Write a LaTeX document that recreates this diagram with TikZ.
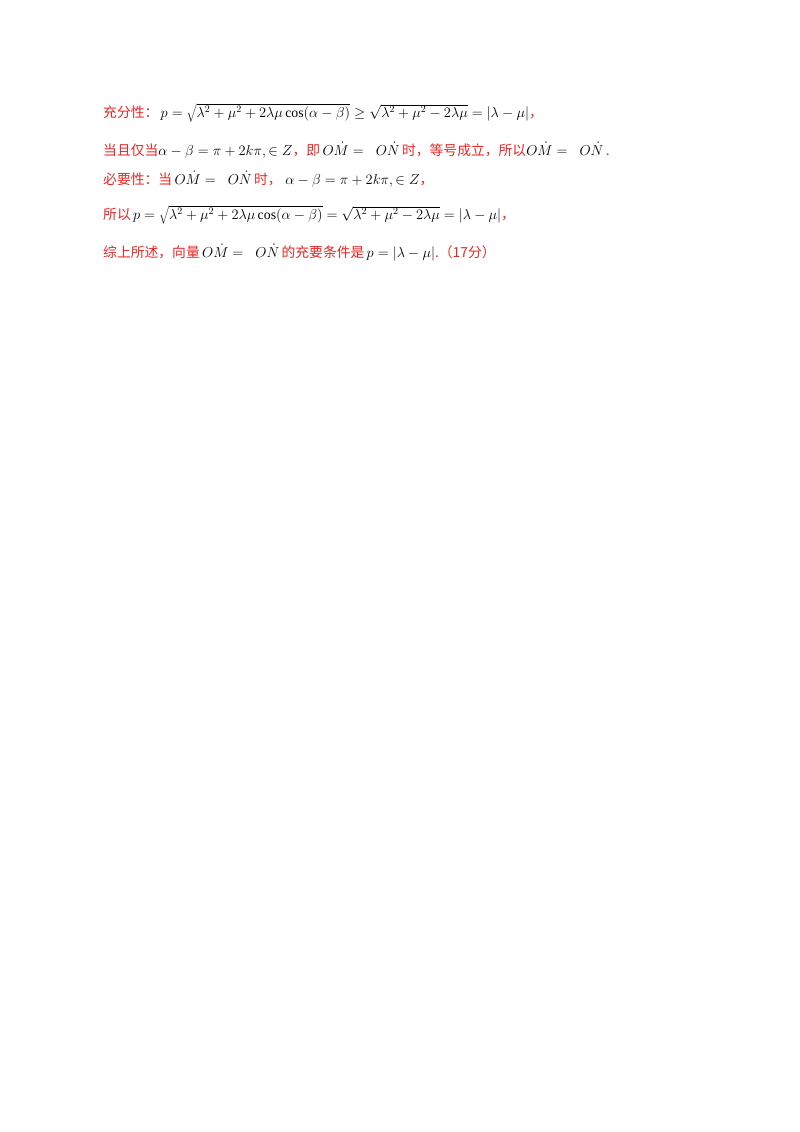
\documentclass[tikz,border=0pt]{standalone}
\usepackage{fontspec}
\setmainfont{Liberation Serif}
\newfontfamily\cjk{Noto Sans CJK SC}
\usepackage{xcolor}
\definecolor{rd}{RGB}{232,40,40}
\begin{document}
\begin{tikzpicture}[x=1pt,y=-1pt,
  ln/.style={anchor=base west,inner sep=0pt,font=\fontsize{13.8}{16}\selectfont}]
\useasboundingbox[fill=white] (0,0) rectangle (800,1132);
\newcommand{\zh}[1]{\textcolor{rd}{\cjk #1}}
\node[ln] (l1) at (103,117) {\zh{充分性：}\,$p=\sqrt{\lambda^2+\mu^2+2\lambda\mu\cos(\alpha-\beta)}\geq\sqrt{\lambda^2+\mu^2-2\lambda\mu}=|\lambda-\mu|$\zh{，}};
\node[ln] (l2) at (103,155) {\zh{当且仅当}$\alpha-\beta=\pi+2k\pi,\in Z$\zh{，即}\,$O\dot M=\;\;O\dot N$\,\zh{时，等号成立，所以}$O\dot M=\;\;O\dot N$\,\zh{.}};
\node[ln] (l3) at (103,184) {\zh{必要性：当}\,$O\dot M=\;\;O\dot N$\,\zh{时，}\;$\alpha-\beta=\pi+2k\pi,\in Z$\zh{，}};
\node[ln] (l4) at (103,219) {\zh{所以}\,$p=\sqrt{\lambda^2+\mu^2+2\lambda\mu\cos(\alpha-\beta)}=\sqrt{\lambda^2+\mu^2-2\lambda\mu}=|\lambda-\mu|$\zh{，}};
\node[ln] (l5) at (103,257) {\zh{综上所述，向量}\,$O\dot M=\;\;O\dot N$\,\zh{的充要条件是}\,$p=|\lambda-\mu|$\zh{.（17分）}};
\end{tikzpicture}
\end{document}
